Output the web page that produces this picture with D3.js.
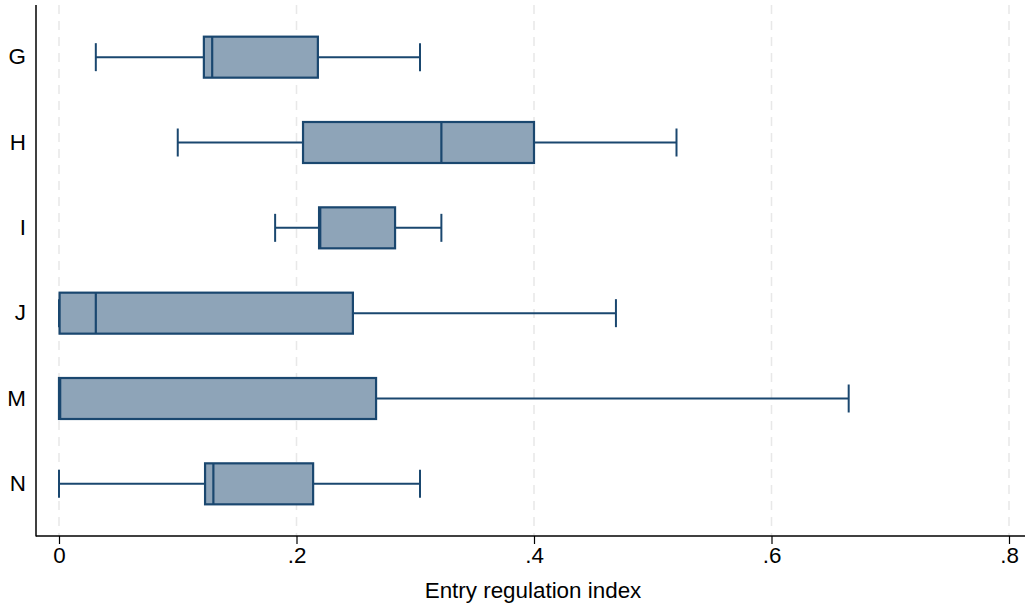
<!DOCTYPE html>
<html>
<head>
<meta charset="utf-8">
<script src="https://cdn.jsdelivr.net/npm/d3@7"></script>
<style>
  body { margin: 0; background: #fff; }
  text { font-family: "Liberation Sans", Arial, sans-serif; }
</style>
</head>
<body>
<svg id="chart" width="1025" height="605"></svg>
<script>
const categories = ["G", "H", "I", "J", "M", "N"];
// per category: lower whisker, q1, median, q3, upper whisker
const lowWhisker = [0.031, 0.100, 0.182, 0.000, 0.000, 0.000];
const q1         = [0.122, 0.2055, 0.219, 0.0005, 0.000, 0.123];
const medians    = [0.129, 0.322, 0.220, 0.031, 0.001, 0.130];
const q3         = [0.218, 0.400, 0.283, 0.2475, 0.267, 0.214];
const highWhisker = [0.304, 0.520, 0.322, 0.469, 0.665, 0.304];
const xTicks = [0, 0.2, 0.4, 0.6, 0.8];
const xTickLabels = ["0", ".2", ".4", ".6", ".8"];

const data = categories.map((c, i) => ({
  cat: c, lo: lowWhisker[i], q1: q1[i], med: medians[i], q3: q3[i], hi: highWhisker[i]
}));

const svg = d3.select("#chart");
const m = {left: 36, right: 1030, top: 5, bottom: 536};
const fontSize = 22.4;

const x = d3.scaleLinear().domain([0, 0.8]).range([59, 1009]);
const y = d3.scaleBand().domain(categories).range([14.5, 526.5]);

const stroke = "#1a476f", fill = "#8ea4b8";
const boxH = 41, capH = 28;

// gridlines
svg.append("g").selectAll("line").data(xTicks).join("line")
  .attr("x1", d => x(d)).attr("x2", d => x(d))
  .attr("y1", m.top).attr("y2", m.bottom)
  .attr("stroke", "#e8e8e8").attr("stroke-width", 1.5)
  .attr("stroke-dasharray", "9,7");

const boxes = svg.append("g").selectAll("g").data(data).join("g")
  .attr("transform", d => `translate(0,${y(d.cat) + y.bandwidth() / 2})`);

// whiskers
boxes.append("line")
  .attr("x1", d => x(d.lo)).attr("x2", d => x(d.q1))
  .attr("stroke", stroke).attr("stroke-width", 2);
boxes.append("line")
  .attr("x1", d => x(d.q3)).attr("x2", d => x(d.hi))
  .attr("stroke", stroke).attr("stroke-width", 2);
// caps
boxes.append("line")
  .attr("x1", d => x(d.lo)).attr("x2", d => x(d.lo))
  .attr("y1", -capH / 2).attr("y2", capH / 2)
  .attr("stroke", stroke).attr("stroke-width", 2);
boxes.append("line")
  .attr("x1", d => x(d.hi)).attr("x2", d => x(d.hi))
  .attr("y1", -capH / 2).attr("y2", capH / 2)
  .attr("stroke", stroke).attr("stroke-width", 2);
// box
boxes.append("rect")
  .attr("x", d => x(d.q1)).attr("width", d => x(d.q3) - x(d.q1))
  .attr("y", -boxH / 2).attr("height", boxH)
  .attr("fill", fill).attr("stroke", stroke).attr("stroke-width", 2.2);
// median
boxes.append("line")
  .attr("x1", d => x(d.med)).attr("x2", d => x(d.med))
  .attr("y1", -boxH / 2).attr("y2", boxH / 2)
  .attr("stroke", stroke).attr("stroke-width", 2.2);

// axes
svg.append("line").attr("x1", m.left).attr("x2", m.left).attr("y1", m.top).attr("y2", m.bottom + 0.5)
  .attr("stroke", "#000").attr("stroke-width", 1.5);
svg.append("line").attr("x1", m.left).attr("x2", m.right).attr("y1", m.bottom).attr("y2", m.bottom)
  .attr("stroke", "#000").attr("stroke-width", 1.5);

const xAxis = svg.append("g").attr("transform", `translate(0,${m.bottom})`)
  .call(d3.axisBottom(x).tickValues(xTicks).tickFormat((d, i) => xTickLabels[i]).tickSize(8).tickPadding(3));
xAxis.select(".domain").remove();
xAxis.selectAll("line").attr("stroke", "#000").attr("stroke-width", 1.2);
xAxis.selectAll("text").attr("font-size", fontSize).attr("fill", "#000")
  .attr("font-family", "'Liberation Sans', Arial, sans-serif");

const yAxis = svg.append("g").attr("transform", `translate(${m.left},0)`)
  .call(d3.axisLeft(y).tickSize(0).tickPadding(10));
yAxis.select(".domain").remove();
yAxis.selectAll("text").attr("font-size", fontSize).attr("fill", "#000")
  .attr("font-family", "'Liberation Sans', Arial, sans-serif");

svg.append("text").attr("x", (m.left + m.right) / 2).attr("y", 598)
  .attr("text-anchor", "middle").attr("font-size", fontSize).attr("fill", "#000")
  .text("Entry regulation index");
</script>
</body>
</html>
